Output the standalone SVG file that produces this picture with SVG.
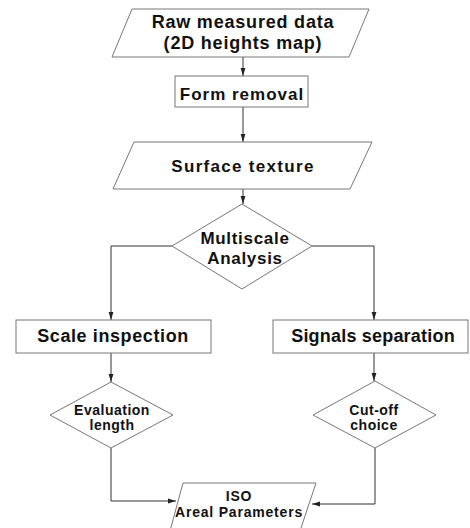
<svg xmlns="http://www.w3.org/2000/svg" width="470" height="528" viewBox="0 0 470 528">
<style>
.shape{fill:#fff;stroke:#777;stroke-width:1}
.conn{fill:none;stroke:#333;stroke-width:1}
text{font-family:"Liberation Sans",Arial,sans-serif;font-weight:bold;fill:#111;text-anchor:middle}
.t18{font-size:18px;letter-spacing:0.8px}
.t17{font-size:17px;letter-spacing:1px}
.t15{font-size:14px;letter-spacing:0.5px}
</style>
<defs>
<marker id="ah" viewBox="0 0 8 6" refX="8" refY="3" markerWidth="8" markerHeight="6" markerUnits="userSpaceOnUse" orient="auto">
<path d="M0,0.6 L8,3 L0,5.4 Z" fill="#222"/>
</marker>
</defs>
<rect width="470" height="528" fill="#fff"/>
<g id="connectors">
<path class="conn" d="M243,57 V76" marker-end="url(#ah)"/>
<path class="conn" d="M243,107 V142" marker-end="url(#ah)"/>
<path class="conn" d="M243,189 V204" marker-end="url(#ah)"/>
<path class="conn" d="M172,246 H111 V320" marker-end="url(#ah)"/>
<path class="conn" d="M312,246 H374 V320" marker-end="url(#ah)"/>
<path class="conn" d="M111,353 V382" marker-end="url(#ah)"/>
<path class="conn" d="M374,353 V381" marker-end="url(#ah)"/>
<path class="conn" d="M111,448 V501 H176" marker-end="url(#ah)"/>
<path class="conn" d="M375,448 V504 H312" marker-end="url(#ah)"/>
</g>
<g id="raw">
<polygon class="shape" points="132,9 369,9 349,57 112,57"/>
<text class="t18" x="243" y="28">Raw measured data</text>
<text class="t18" x="243" y="49">(2D heights map)</text>
</g>
<g id="form">
<rect class="shape" x="175" y="76" width="133" height="31"/>
<text class="t17" x="242" y="100">Form removal</text>
</g>
<g id="surface">
<polygon class="shape" points="134,142 372,142 350,189 113,189"/>
<text class="t17" x="243" y="172" style="letter-spacing:1.3px">Surface texture</text>
</g>
<g id="multiscale">
<polygon class="shape" points="242,204 312,246 242,289 172,246"/>
<text class="t17" x="245" y="244" style="letter-spacing:0.7px">Multiscale</text>
<text class="t17" x="245" y="264" style="letter-spacing:0.7px">Analysis</text>
</g>
<g id="scale">
<rect class="shape" x="16" y="320" width="195" height="33"/>
<text class="t18" x="113" y="342" style="letter-spacing:0.6px">Scale inspection</text>
</g>
<g id="signals">
<rect class="shape" x="273" y="320" width="195" height="33"/>
<text class="t18" x="373" y="342" style="letter-spacing:0.2px">Signals separation</text>
</g>
<g id="evaluation">
<polygon class="shape" points="111,382 173,415 111,448 50,415"/>
<text class="t15" x="112" y="415">Evaluation</text>
<text class="t15" x="112" y="430">length</text>
</g>
<g id="cutoff">
<polygon class="shape" points="375,381 436,415 375,448 313,415"/>
<text class="t15" x="374" y="415">Cut-off</text>
<text class="t15" x="374" y="430">choice</text>
</g>
<g id="iso">
<polygon class="shape" points="183,483 316,483 300,531 170,531"/>
<text class="t15" x="239" y="501" style="letter-spacing:0.8px">ISO</text>
<text class="t15" x="239" y="517" style="letter-spacing:0.8px">Areal Parameters</text>
</g>
</svg>
